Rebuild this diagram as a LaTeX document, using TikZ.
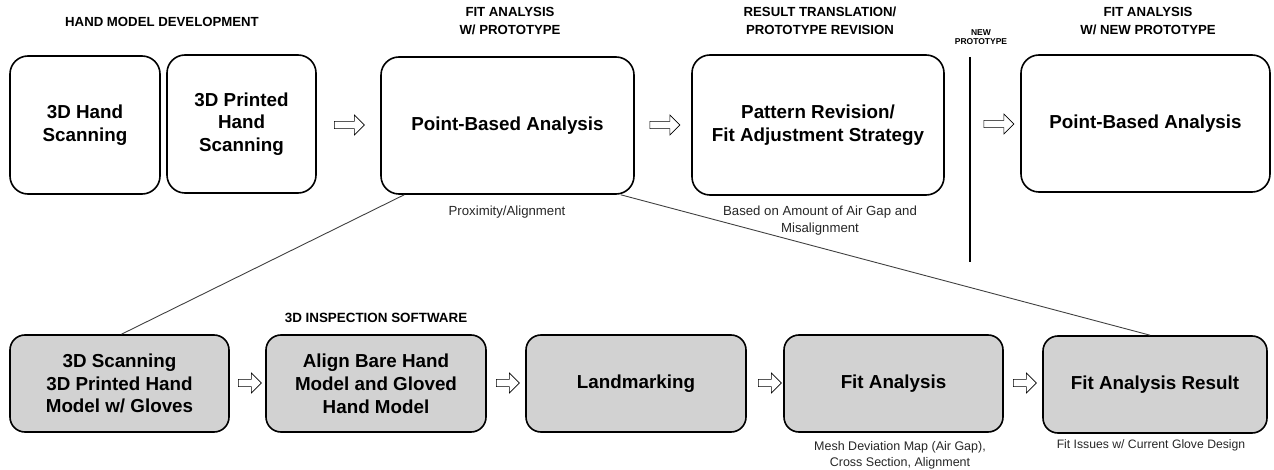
\documentclass[tikz,border=0pt]{standalone}
\usepackage{fontspec}
\setmainfont{Liberation Sans}
\usetikzlibrary{shapes.arrows}

\begin{document}
\begin{tikzpicture}[x=1pt,y=-1pt]
	\tikzset{stage/.style={draw,line width=1.6pt,rounded corners=18pt,align=center,font=\bfseries\fontsize{18.8}{22.8}\selectfont,minimum height=#1},
		step box/.style={stage=97pt,fill=gray!35,rounded corners=15pt},
		head/.style={font=\bfseries\fontsize{13.2}{18}\selectfont,align=center},
		note/.style={font=\fontsize{13.2}{17}\selectfont,align=center,text=black!85},
		fwd/.style={draw,single arrow,fill=white,line width=0.6pt,minimum height=#1,minimum width=20pt,single arrow head extend=4pt,inner sep=2pt}}
	\useasboundingbox (0,0) rectangle (1274,470);
	
	% upper row
	\node [stage=138pt,minimum width=150pt] (A) at (85,125) {3D Hand\\Scanning};
	\node [stage=138pt,minimum width=149pt] (B) at (241.5,124) {3D Printed\\Hand\\Scanning};
	\node [stage=137pt,minimum width=253pt] (C) at (507.5,125.5) {Point-Based Analysis};
	\node [stage=140pt,minimum width=252pt] (D) at (818,125) {Pattern Revision/\\Fit Adjustment Strategy};
	\node [stage=137pt,minimum width=249pt] (E) at (1145.5,123.5) {Point-Based Analysis};
	\node [fwd=30pt] (a1) at (347.5,125) {};
	\node [fwd=30pt] (a2) at (663,125) {};
	\node [fwd=30pt] (a3) at (997,124) {};
	
	\node [head] (hA) at (162,22) {HAND MODEL DEVELOPMENT};
	\node [head] (hC) at (510,21) {FIT ANALYSIS\\W/ PROTOTYPE};
	\node [head] (hD) at (820,21) {RESULT TRANSLATION/\\PROTOTYPE REVISION};
	\node [head] (hE) at (1148,21) {FIT ANALYSIS\\W/ NEW PROTOTYPE};
	\node [font=\bfseries\fontsize{8.5}{9.5}\selectfont,align=center] (hN) at (981,37) {NEW\\PROTOTYPE};
	\coordinate (np top) at (970,57);
	\coordinate (np bot) at (970,262);
	\draw [line width=1.8pt] (np top) -- (np bot);
	
	\node [note] (nC) at (507,212) {Proximity/Alignment};
	\node [note] (nD) at (820,221) {Based on Amount of Air Gap and\\Misalignment};
	
	% lower row
	\node [step box,minimum width=219pt] (F) at (119.5,383.5) {3D Scanning\\3D Printed Hand\\Model w/ Gloves};
	\node [step box,minimum width=220pt] (G) at (376,383.5) {Align Bare Hand\\Model and Gloved\\Hand Model};
	\node [step box,minimum width=220pt] (H) at (636,383.5) {Landmarking};
	\node [step box,minimum width=219pt] (I) at (893.5,383.5) {Fit Analysis};
	\node [step box,minimum width=224pt] (J) at (1155,384.5) {Fit Analysis Result};
	\node [fwd=23pt] (b1) at (248,383) {};
	\node [fwd=23pt] (b2) at (506,383) {};
	\node [fwd=23pt] (b3) at (768,383) {};
	\node [fwd=23pt] (b4) at (1023,383) {};
	
	\node [head,font=\bfseries\fontsize{13.4}{14}\selectfont] (hG) at (376,318) {3D INSPECTION SOFTWARE};
	\node [note,font=\fontsize{12.5}{16}\selectfont] (nI) at (900,455) {Mesh Deviation Map (Air Gap),\\Cross Section, Alignment};
	\node [note,font=\fontsize{12.2}{14}\selectfont] (nJ) at (1151,445) {Fit Issues w/ Current Glove Design};
	
	\draw [line width=0.9pt,black!75] ([xshift=24pt]C.south west) -- ([xshift=2pt]F.north);
	\draw [line width=0.9pt,black!75] ([xshift=-14pt]C.south east) -- ([xshift=-5pt]J.north);
\end{tikzpicture}
\end{document}
